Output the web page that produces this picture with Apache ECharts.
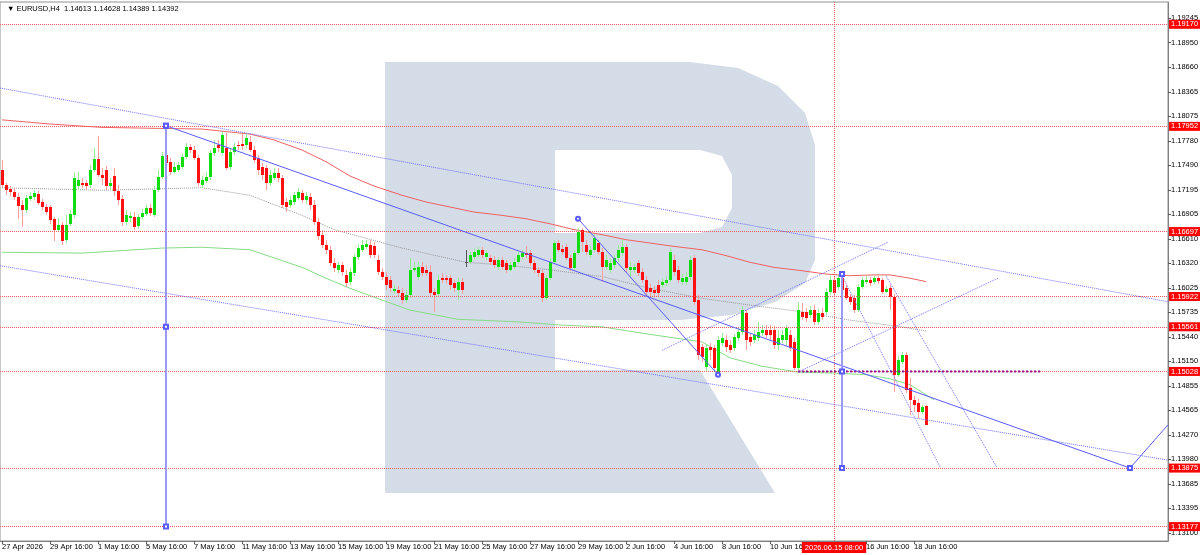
<!DOCTYPE html>
<html><head><meta charset="utf-8">
<script src="https://cdn.jsdelivr.net/npm/echarts@6/dist/echarts.min.js"></script>
<style>html,body{margin:0;padding:0;background:#fff}#c{width:1200px;height:555px}</style>
</head><body><div id="c"></div>
<script>
const symbolName = 'EURUSD,H4';
const tickLabels = ["27 Apr 2026","29 Apr 16:00","1 May 16:00","5 May 16:00","7 May 16:00","11 May 16:00","13 May 16:00","15 May 16:00","19 May 16:00","21 May 16:00","25 May 16:00","27 May 16:00","29 May 16:00","2 Jun 16:00","4 Jun 16:00","8 Jun 16:00","10 Jun 16:00","12 Jun 16:00","16 Jun 16:00","18 Jun 16:00"];
const axisValues = [1.19245,1.18950,1.18660,1.18365,1.18075,1.17780,1.17490,1.17195,1.16905,1.16610,1.16320,1.16025,1.15735,1.15440,1.15150,1.14855,1.14565,1.14270,1.13980,1.13685,1.13395,1.13100];
const levels = [1.19170,1.17952,1.16697,1.15922,1.15561,1.15028,1.13875,1.13177];
const lastPrice = 1.14392;
const markIndex = 208;
const markLabel = '2026.06.15 08:00';
// [open, close, low, high]
const ohlc = [
[1.1743,1.1725,1.1723,1.1755],[1.1725,1.1719,1.1713,1.1728],[1.1721,1.1717,1.1712,1.1724],[1.1717,1.1711,1.1707,1.1722],
[1.1711,1.1700,1.1685,1.1716],[1.1701,1.1695,1.1675,1.1707],[1.1695,1.1710,1.1692,1.1713],[1.1709,1.1712,1.1706,1.1717],
[1.1711,1.1716,1.1707,1.1719],[1.1715,1.1704,1.1701,1.1718],[1.1705,1.1699,1.1695,1.1709],[1.1699,1.1693,1.1689,1.1703],
[1.1699,1.1684,1.1679,1.1701],[1.1685,1.1672,1.1658,1.1687],[1.1672,1.1678,1.1669,1.1686],[1.1678,1.1658,1.1654,1.1681],
[1.1660,1.1678,1.1656,1.1689],[1.1679,1.1691,1.1676,1.1695],[1.1689,1.1734,1.1686,1.1740],[1.1724,1.1731,1.1719,1.1741],
[1.1728,1.1725,1.1722,1.1734],[1.1728,1.1724,1.1719,1.1731],[1.1725,1.1743,1.1722,1.1749],[1.1743,1.1756,1.1741,1.1769],
[1.1756,1.1737,1.1735,1.1784],[1.1737,1.1734,1.1725,1.1746],[1.1743,1.1724,1.1719,1.1748],[1.1724,1.1728,1.1719,1.1734],
[1.1736,1.1718,1.1712,1.1746],[1.1718,1.1707,1.1701,1.1725],[1.1709,1.1681,1.1676,1.1713],[1.1681,1.1689,1.1678,1.1695],
[1.1686,1.1688,1.1681,1.1693],[1.1687,1.1675,1.1672,1.1693],[1.1676,1.1687,1.1673,1.1691],[1.1687,1.1692,1.1685,1.1697],
[1.1691,1.1698,1.1688,1.1701],[1.1698,1.1692,1.1688,1.1703],[1.1689,1.1719,1.1687,1.1724],[1.1719,1.1735,1.1717,1.1743],
[1.1735,1.1760,1.1732,1.1765],[1.1761,1.1752,1.1748,1.1796],[1.1753,1.1741,1.1737,1.1757],[1.1741,1.1747,1.1738,1.1753],
[1.1743,1.1749,1.1741,1.1753],[1.1747,1.1759,1.1744,1.1762],[1.1759,1.1771,1.1756,1.1775],[1.1771,1.1767,1.1763,1.1774],
[1.1767,1.1757,1.1755,1.1772],[1.1757,1.1728,1.1724,1.1761],[1.1725,1.1731,1.1722,1.1736],[1.1730,1.1735,1.1728,1.1741],
[1.1735,1.1763,1.1731,1.1767],[1.1763,1.1769,1.1760,1.1779],[1.1773,1.1769,1.1765,1.1779],[1.1763,1.1785,1.1761,1.1789],
[1.1769,1.1746,1.1743,1.1787],[1.1747,1.1765,1.1743,1.1769],[1.1765,1.1771,1.1761,1.1775],[1.1773,1.1772,1.1767,1.1778],
[1.1774,1.1772,1.1767,1.1786],[1.1773,1.1781,1.1769,1.1787],[1.1777,1.1767,1.1765,1.1784],[1.1767,1.1755,1.1752,1.1772],
[1.1757,1.1743,1.1737,1.1761],[1.1747,1.1737,1.1731,1.1752],[1.1746,1.1728,1.1719,1.1749],[1.1728,1.1737,1.1724,1.1743],
[1.1734,1.1740,1.1731,1.1746],[1.1740,1.1734,1.1729,1.1746],[1.1734,1.1701,1.1698,1.1737],[1.1705,1.1699,1.1693,1.1710],
[1.1701,1.1707,1.1698,1.1712],[1.1705,1.1713,1.1701,1.1717],[1.1710,1.1717,1.1707,1.1722],[1.1716,1.1707,1.1704,1.1719],
[1.1707,1.1712,1.1703,1.1717],[1.1711,1.1701,1.1695,1.1716],[1.1701,1.1681,1.1678,1.1707],[1.1681,1.1664,1.1660,1.1686],
[1.1666,1.1654,1.1650,1.1672],[1.1654,1.1648,1.1643,1.1660],[1.1648,1.1632,1.1629,1.1652],[1.1632,1.1626,1.1621,1.1638],
[1.1624,1.1630,1.1620,1.1633],[1.1630,1.1621,1.1617,1.1633],[1.1618,1.1608,1.1604,1.1624],[1.1610,1.1621,1.1606,1.1626],
[1.1620,1.1639,1.1617,1.1643],[1.1639,1.1650,1.1636,1.1655],[1.1648,1.1654,1.1645,1.1660],[1.1651,1.1655,1.1649,1.1660],
[1.1654,1.1642,1.1638,1.1660],[1.1652,1.1642,1.1638,1.1657],[1.1636,1.1621,1.1618,1.1642],[1.1621,1.1616,1.1612,1.1626],
[1.1616,1.1606,1.1600,1.1621],[1.1612,1.1602,1.1598,1.1617],[1.1599,1.1601,1.1595,1.1606],[1.1600,1.1596,1.1593,1.1605],
[1.1596,1.1588,1.1583,1.1602],[1.1588,1.1594,1.1584,1.1600],[1.1594,1.1624,1.1590,1.1638],[1.1624,1.1626,1.1621,1.1633],
[1.1616,1.1627,1.1612,1.1633],[1.1627,1.1620,1.1617,1.1633],[1.1624,1.1620,1.1617,1.1630],[1.1621,1.1596,1.1593,1.1630],
[1.1598,1.1594,1.1574,1.1602],[1.1595,1.1612,1.1592,1.1618],[1.1614,1.1612,1.1608,1.1620],[1.1614,1.1612,1.1607,1.1618],
[1.1614,1.1606,1.1600,1.1618],[1.1608,1.1602,1.1598,1.1612],[1.1600,1.1610,1.1588,1.1614],[1.1610,1.1600,1.1595,1.1614],
[1.1633,1.1633,1.1627,1.1648],[1.1633,1.1642,1.1631,1.1645],[1.1639,1.1645,1.1637,1.1650],[1.1642,1.1648,1.1639,1.1651],
[1.1648,1.1642,1.1638,1.1651],[1.1639,1.1644,1.1636,1.1648],[1.1638,1.1633,1.1630,1.1642],[1.1636,1.1630,1.1626,1.1641],
[1.1627,1.1636,1.1624,1.1639],[1.1636,1.1627,1.1624,1.1639],[1.1632,1.1624,1.1620,1.1636],[1.1624,1.1630,1.1621,1.1633],
[1.1627,1.1633,1.1625,1.1638],[1.1633,1.1642,1.1631,1.1645],[1.1639,1.1644,1.1637,1.1648],[1.1644,1.1642,1.1638,1.1652],
[1.1644,1.1632,1.1629,1.1648],[1.1632,1.1624,1.1620,1.1636],[1.1624,1.1620,1.1616,1.1627],[1.1620,1.1590,1.1586,1.1624],
[1.1590,1.1614,1.1588,1.1618],[1.1614,1.1633,1.1612,1.1638],[1.1633,1.1656,1.1631,1.1660],[1.1656,1.1648,1.1645,1.1660],
[1.1649,1.1645,1.1642,1.1654],[1.1651,1.1638,1.1636,1.1655],[1.1638,1.1626,1.1623,1.1642],[1.1626,1.1644,1.1624,1.1648],
[1.1644,1.1669,1.1642,1.1674],[1.1672,1.1657,1.1645,1.1674],[1.1654,1.1645,1.1642,1.1660],[1.1642,1.1648,1.1638,1.1652],
[1.1648,1.1662,1.1645,1.1667],[1.1656,1.1645,1.1642,1.1660],[1.1645,1.1627,1.1610,1.1650],[1.1627,1.1636,1.1624,1.1642],
[1.1624,1.1632,1.1620,1.1638],[1.1630,1.1638,1.1626,1.1642],[1.1638,1.1648,1.1633,1.1654],[1.1644,1.1651,1.1641,1.1660],
[1.1651,1.1626,1.1621,1.1655],[1.1624,1.1627,1.1614,1.1633],[1.1624,1.1627,1.1620,1.1631],[1.1632,1.1620,1.1617,1.1636],
[1.1621,1.1612,1.1608,1.1626],[1.1612,1.1598,1.1593,1.1617],[1.1602,1.1598,1.1593,1.1607],[1.1600,1.1596,1.1592,1.1605],
[1.1606,1.1596,1.1593,1.1612],[1.1606,1.1610,1.1602,1.1614],[1.1608,1.1612,1.1605,1.1617],[1.1612,1.1645,1.1610,1.1650],
[1.1636,1.1621,1.1617,1.1642],[1.1624,1.1612,1.1608,1.1629],[1.1610,1.1614,1.1606,1.1619],[1.1610,1.1616,1.1606,1.1621],
[1.1616,1.1636,1.1612,1.1641],[1.1638,1.1586,1.1582,1.1642],[1.1588,1.1522,1.1516,1.1594],[1.1532,1.1520,1.1514,1.1536],
[1.1508,1.1531,1.1502,1.1534],[1.1532,1.1528,1.1516,1.1537],[1.1531,1.1507,1.1502,1.1534],[1.1501,1.1540,1.1497,1.1545],
[1.1537,1.1543,1.1533,1.1549],[1.1540,1.1532,1.1526,1.1546],[1.1534,1.1528,1.1525,1.1540],[1.1531,1.1544,1.1527,1.1547],
[1.1543,1.1550,1.1539,1.1555],[1.1550,1.1576,1.1546,1.1581],[1.1573,1.1540,1.1528,1.1576],[1.1544,1.1538,1.1533,1.1549],
[1.1540,1.1546,1.1537,1.1552],[1.1543,1.1550,1.1539,1.1562],[1.1549,1.1552,1.1545,1.1558],[1.1552,1.1546,1.1543,1.1558],
[1.1552,1.1546,1.1540,1.1558],[1.1552,1.1534,1.1530,1.1557],[1.1534,1.1543,1.1528,1.1552],[1.1540,1.1546,1.1537,1.1552],
[1.1540,1.1555,1.1533,1.1558],[1.1546,1.1531,1.1527,1.1552],[1.1538,1.1507,1.1505,1.1543],[1.1507,1.1576,1.1505,1.1586],
[1.1574,1.1568,1.1564,1.1584],[1.1574,1.1567,1.1562,1.1579],[1.1570,1.1576,1.1567,1.1581],[1.1576,1.1562,1.1558,1.1582],
[1.1562,1.1573,1.1558,1.1577],[1.1573,1.1568,1.1564,1.1579],[1.1574,1.1598,1.1570,1.1602],[1.1598,1.1612,1.1594,1.1617],
[1.1612,1.1596,1.1593,1.1617],[1.1604,1.1614,1.1600,1.1618],[1.1614,1.1600,1.1596,1.1619],[1.1602,1.1590,1.1588,1.1606],
[1.1592,1.1586,1.1582,1.1595],[1.1590,1.1576,1.1573,1.1594],[1.1576,1.1604,1.1574,1.1607],[1.1604,1.1612,1.1601,1.1616],
[1.1610,1.1612,1.1607,1.1617],[1.1612,1.1608,1.1605,1.1616],[1.1610,1.1614,1.1607,1.1617],[1.1614,1.1611,1.1607,1.1617],
[1.1612,1.1598,1.1595,1.1614],[1.1598,1.1601,1.1596,1.1605],[1.1602,1.1592,1.1576,1.1606],[1.1592,1.1499,1.1478,1.1595],
[1.1499,1.1516,1.1496,1.1521],[1.1514,1.1522,1.1512,1.1526],[1.1522,1.1481,1.1477,1.1526],[1.1483,1.1469,1.1451,1.1495],
[1.1469,1.1463,1.1454,1.1474],[1.1465,1.1454,1.1447,1.1470],[1.1454,1.1460,1.1452,1.1463],[1.14613,1.14392,1.14389,1.14628]
];
// moving averages sampled at [barIndex, price]
const maRed = [[0,1.1803],[12,1.1798],[25,1.1794],[37,1.1793],[50,1.1792],[62,1.1786],[68,1.1779],[75,1.1767],[81,1.1753],[87,1.1736],[93,1.1724],[100,1.1713],[106,1.1705],[112,1.1699],[118,1.1693],[125,1.1689],[131,1.1685],[137,1.1679],[143,1.1672],[150,1.1666],[156,1.1660],[162,1.1656],[168,1.1652],[175,1.1648],[181,1.1641],[187,1.1633],[193,1.1627],[200,1.1623],[206,1.1619],[212,1.1617],[218,1.1618],[222,1.1618],[227,1.1614],[231,1.1610]];
const maGreen = [[0,1.1645],[20,1.1644],[40,1.1650],[50,1.1651],[62,1.1648],[75,1.1627],[81,1.1614],[87,1.1602],[95,1.1588],[102,1.1576],[114,1.1565],[129,1.1562],[140,1.1558],[150,1.1556],[162,1.1547],[175,1.1538],[182,1.1519],[190,1.1509],[199,1.1502],[207,1.1501],[216,1.1499],[222,1.1494],[227,1.1487],[231,1.1475],[233,1.1469]];
const maGrey = [[0,1.1722],[25,1.1719],[50,1.1722],[62,1.1713],[75,1.1689],[83,1.1672],[100,1.1650],[116,1.1633],[125,1.1630],[137,1.1624],[150,1.1616],[162,1.1602],[175,1.1590],[187,1.1582],[200,1.1574],[212,1.1564],[225,1.1556],[231,1.1551]];
// drawn objects [barIndex, price]
const trendMain = [[41,1.1796],[282,1.13875]];
const trendNext = [[282,1.13875],[291.5,1.14392]];
const vertA = [[41,1.1796],[41,1.15561],[41,1.13177]];
const vertB = [[210,1.1619],[210,1.15028],[210,1.13875]];
const swingDown = [[144,1.1685],[179,1.1499]];
const chanTop = [[-0.5,1.1841],[291.5,1.1586]];
const chanBot = [[-0.5,1.1629],[291.5,1.1397]];
const riseTop = [[165,1.1528],[221.5,1.1657]];
const riseBot = [[199,1.1502],[249,1.1614]];
const dropA = [[210,1.1617],[234.5,1.1389]];
const dropB = [[221,1.1617],[248.75,1.1388]];
const pivotLine = [[199,1.15028],[259.5,1.15028]];

const NBARS = 292;
const cats = new Array(NBARS).fill('');
tickLabels.forEach((t, k) => { cats[k * 12] = t; });
const FONT = "'Liberation Sans','DejaVu Sans',sans-serif";
const last = ohlc[ohlc.length - 1];
const BLUE = '#5a5aff';
const LOGO = '#d4dce8';

const chart = echarts.init(document.getElementById('c'), null, {renderer: 'canvas'});

function candle(params, api) {
  const i = api.value(0), o = api.value(1), c = api.value(2);
  const po = api.coord([i, o]), pc = api.coord([i, c]);
  const pl = api.coord([i, api.value(3)]), ph = api.coord([i, api.value(4)]);
  const x = Math.round(po[0]);
  const up = c > o, doji = c === o;
  const body = doji ? '#555555' : (up ? '#10dc10' : '#ff1010');
  const wick = doji ? '#555555' : (up ? '#94ec94' : '#ff9c9c');
  const top = Math.round(Math.min(po[1], pc[1]));
  const bot = Math.round(Math.max(po[1], pc[1]));
  return {type: 'group', children: [
    {type: 'rect', shape: {x: x, y: Math.round(ph[1]), width: 1, height: Math.max(1, Math.round(pl[1]) - Math.round(ph[1]))}, style: {fill: wick}},
    {type: 'rect', shape: {x: x - 1, y: top, width: 3, height: Math.max(1, bot - top)}, style: {fill: body}}
  ]};
}

function blueLine(data, dotted, sym, width, color) {
  return {type: 'line', xAxisIndex: 1, yAxisIndex: 0, data: data, z: 5,
    symbol: sym || 'none', symbolSize: 4, showSymbol: !!sym,
    lineStyle: {color: color || (dotted ? '#6e6eff' : BLUE), width: width || 1, type: dotted ? 'dotted' : 'solid'},
    itemStyle: {color: BLUE, borderColor: BLUE, borderWidth: 1}, silent: true, animation: false};
}

const levelData = levels.map(v => ({yAxis: v}));
levelData.push({yAxis: lastPrice, lineStyle: {opacity: 0}, label: {backgroundColor: '#000'}});
levelData.push({xAxis: markIndex, label: {position: 'start', distance: 1, formatter: markLabel, padding: [2, 3, 1, 3]}});

const option = {
  animation: false,
  title: {text: '▼ ' + symbolName + '  ' + [last[0], last[3], last[2], last[1]].map(v => v.toFixed(5)).join(' '),
    left: 2, top: 0, textStyle: {fontSize: 7.5, fontWeight: 'normal', color: '#000', fontFamily: FONT}},
  grid: {left: 0, right: 32, top: 2, bottom: 14, containLabel: false, outerBoundsMode: 'none',
    show: true, borderColor: '#909090', borderWidth: 1, backgroundColor: 'transparent'},
  graphic: [
    {type: 'rect', z: -10, silent: true, shape: {x: 385, y: 62, width: 170, height: 431}, style: {fill: LOGO}},
    {type: 'polygon', z: -10, silent: true, shape: {points: [[555,62],[690,62],[738,68],[778,86],[805,113],[815,145],[815,260],[805,283],[775,302],[732,315],[680,320],[555,320]]}, style: {fill: LOGO}},
    {type: 'polygon', z: -9, silent: true, shape: {points: [[555,150],[700,150],[722,156],[732,175],[732,208],[722,227],[700,233],[555,233]]}, style: {fill: '#ffffff'}},
    {type: 'polygon', z: -10, silent: true, shape: {points: [[555, 370], [700, 370], [775, 493], [555, 493]]}, style: {fill: LOGO}}
  ],
  xAxis: [
    {type: 'category', data: cats, boundaryGap: true, position: 'bottom',
      axisLine: {show: true, onZero: false, lineStyle: {color: '#808080'}},
      axisTick: {show: true, length: 3, alignWithLabel: true, interval: (i, v) => v !== '', lineStyle: {color: '#555'}},
      axisLabel: {interval: (i, v) => v !== '', align: 'left', margin: 2, fontSize: 7.5, color: '#000', fontFamily: FONT},
      splitLine: {show: false}},
    {type: 'value', min: -0.5, max: NBARS - 0.5, show: false, axisLine: {show: false, onZero: false}}
  ],
  yAxis: [
    {type: 'value', position: 'right', min: 1.13005, max: 1.19436, scale: true,
      axisLine: {show: true, onZero: false, lineStyle: {color: '#808080'}},
      axisTick: {show: true, length: 3, customValues: axisValues, lineStyle: {color: '#555'}},
      axisLabel: {customValues: axisValues, formatter: v => v.toFixed(5), fontSize: 7.5, color: '#000', margin: 3, fontFamily: FONT},
      splitLine: {show: false}}
  ],
  series: [
    {type: 'line', name: 'MA red', xAxisIndex: 1, data: maRed, symbol: 'none', z: 2,
      lineStyle: {color: '#f06060', width: 1}, silent: true,
      markLine: {silent: true, symbol: 'none', animation: false, precision: 5,
        lineStyle: {type: 'dotted', color: '#f05a5a', width: 1},
        label: {position: 'end', distance: 1, formatter: p => (typeof p.value === 'number' && p.value < 10 ? p.value.toFixed(5) : ''),
          backgroundColor: '#ff0000', color: '#fff', padding: [1, 2, 0, 2], fontSize: 7.5, fontFamily: FONT},
        data: levelData}},
    {type: 'line', name: 'MA green', xAxisIndex: 1, data: maGreen, symbol: 'none', z: 2, lineStyle: {color: '#86dc86', width: 1}, silent: true},
    {type: 'line', name: 'MA grey', xAxisIndex: 1, data: maGrey, symbol: 'none', z: 2, lineStyle: {color: '#999999', width: 1, type: 'dotted'}, silent: true},
    blueLine(chanTop, true), blueLine(chanBot, true), blueLine(riseTop, true), blueLine(riseBot, true),
    blueLine(dropA, true), blueLine(dropB, true),
    {type: 'line', xAxisIndex: 1, data: pivotLine, symbol: 'none', z: 5, lineStyle: {color: '#8b1a8b', width: 2, type: 'dotted'}, silent: true},
    {type: 'custom', name: 'EURUSD', xAxisIndex: 1, yAxisIndex: 0, z: 4, renderItem: candle, silent: true,
      encode: {x: 0, y: [1, 2, 3, 4]}, data: ohlc.map((d, i) => [i, d[0], d[1], d[2], d[3]])},
    blueLine(trendMain, false, 'emptyRect'), blueLine(trendNext, false),
    blueLine(vertA, false, 'emptyRect', 2, '#9a9af5'), blueLine(vertB, false, 'emptyRect', 2, '#9a9af5'),
    blueLine(swingDown, false, 'emptyCircle')
  ]
};
chart.setOption(option);
</script></body></html>
